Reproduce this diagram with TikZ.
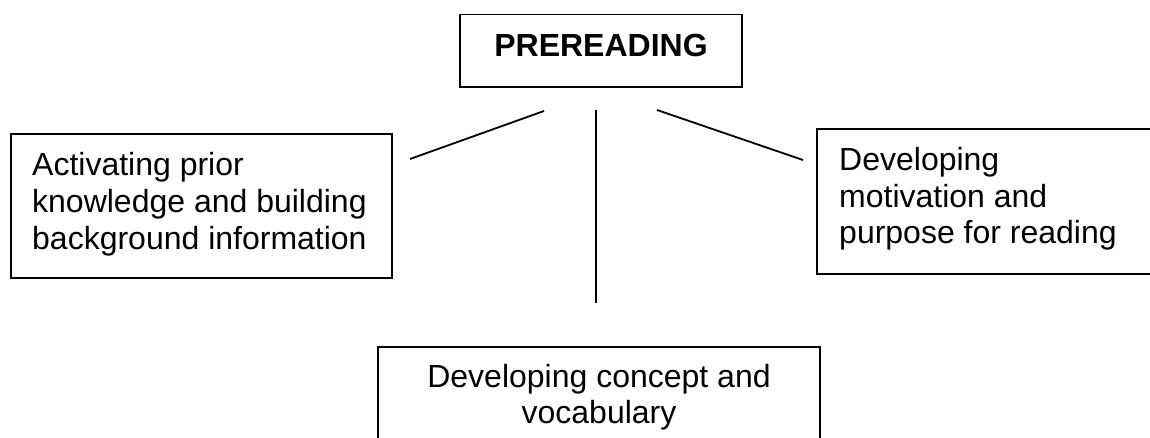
\documentclass[tikz,border=0pt]{standalone}
\usepackage{fontspec}
\setmainfont{Liberation Sans}
\begin{document}
\begin{tikzpicture}[x=1pt,y=-1pt,
  box/.style={draw=black,line width=1.8pt,fill=none,inner sep=0pt},
  txt/.style={anchor=base west,inner sep=0pt,font=\fontsize{32}{36.7}\selectfont},
  ctxt/.style={anchor=base,inner sep=0pt,font=\fontsize{32}{36.7}\selectfont},
  conn/.style={draw=black,line width=1.8pt}]
\useasboundingbox (0,0) rectangle (1150,437);
\clip (0,0) rectangle (1150,437);
\fill[white] (0,0) rectangle (1150,437);
% boxes
\node[box,minimum width=282pt,minimum height=72.5pt] (pre) at (601,50.75) {};
\node[box,minimum width=381pt,minimum height=144pt] (act) at (201.5,206) {};
\node[box,minimum width=343pt,minimum height=145pt] (mot) at (988.5,201.5) {};
\node[box,minimum width=442pt,minimum height=110pt] (voc) at (599,402) {};
% texts
\node[ctxt,font=\fontsize{32}{36.7}\selectfont\bfseries] (pret) at (601,56) {PREREADING};
\node[txt] (act1) at (32,175) {Activating prior};
\node[txt] (act2) at (32,212) {knowledge and building};
\node[txt] (act3) at (32,249) {background information};
\node[txt] (mot1) at (839,170) {Developing};
\node[txt] (mot2) at (839,207) {motivation and};
\node[txt] (mot3) at (839,243) {purpose for reading};
\node[ctxt] (voc1) at (599,387) {Developing concept and};
\node[ctxt] (voc2) at (599,423) {vocabulary};
% connector end points
\coordinate (l1a) at (410,159);
\coordinate (l1b) at (544,111);
\coordinate (l2a) at (596,110);
\coordinate (l2b) at (596,303);
\coordinate (l3a) at (657,110);
\coordinate (l3b) at (803,160);
\draw[conn] (l1a) -- (l1b);
\draw[conn] (l2a) -- (l2b);
\draw[conn] (l3a) -- (l3b);
\end{tikzpicture}
\end{document}
